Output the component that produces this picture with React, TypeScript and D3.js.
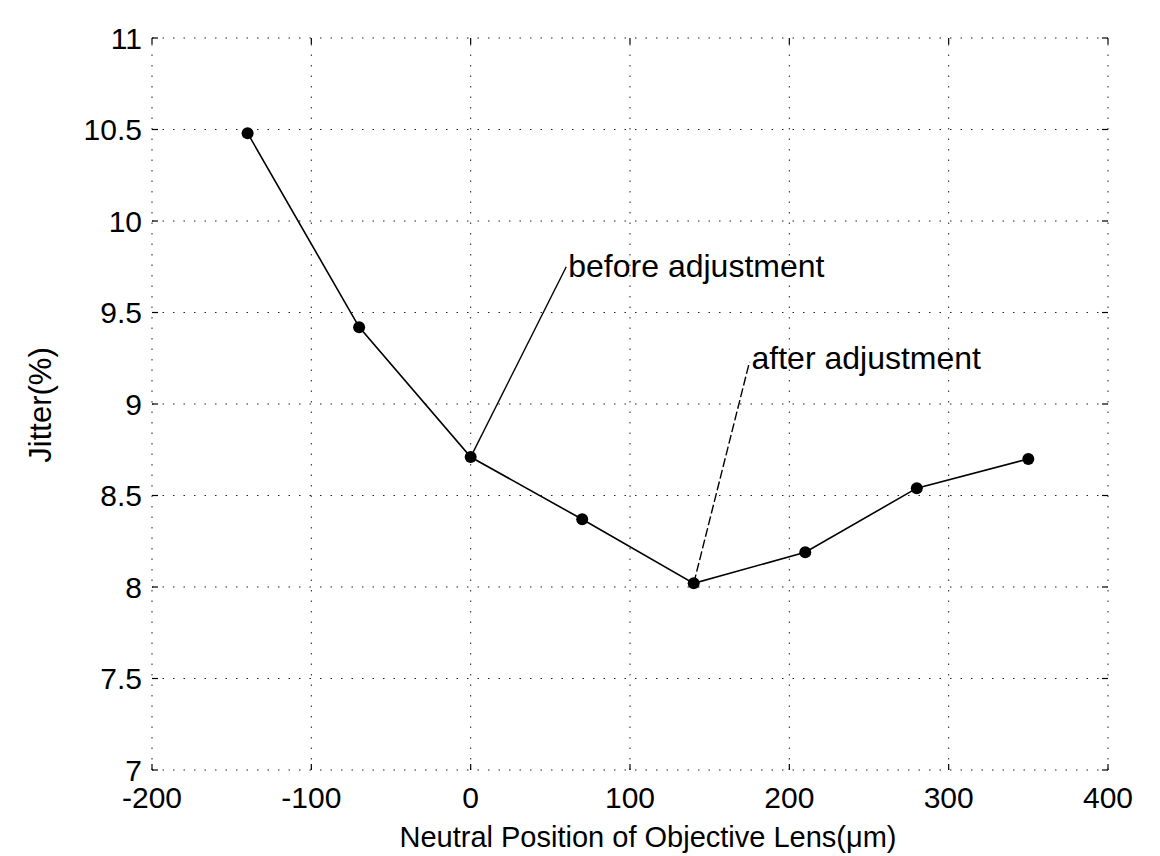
import { useEffect, useRef } from 'react'
import * as d3 from 'd3'

// lens position (um) and measured jitter (%)
const positions = [-140, -70, 0, 70, 140, 210, 280, 350]
const jitter = [10.48, 9.42, 8.71, 8.37, 8.02, 8.19, 8.54, 8.7]

const xTicks = [-200, -100, 0, 100, 200, 300, 400]
const yTicks = [7, 7.5, 8, 8.5, 9, 9.5, 10, 10.5, 11]

// callouts: label, point it refers to, where the label sits (data units)
const notes = [
  { label: 'before adjustment', px: 0, py: 8.71, tx: 60, ty: 9.75, dy: 10, dash: null },
  { label: 'after adjustment', px: 140, py: 8.02, tx: 175, ty: 9.23, dy: 7, dash: '9,3' },
]

const W = 1160
const H = 856
const FONT = '"Liberation Sans", Arial, sans-serif'

export default function App() {
  const ref = useRef<SVGSVGElement | null>(null)

  useEffect(() => {
    if (!ref.current) return
    const svg = d3.select(ref.current)
    svg.selectAll('*').remove()

    const x = d3.scaleLinear().domain([-200, 400]).range([152, 1108])
    const y = d3.scaleLinear().domain([7, 11]).range([770, 38])
    const [x0, x1] = x.range()
    const [y0, y1] = y.range()

    // grid + box, sparse dots like the scanned original
    const grid = svg
      .append('g')
      .attr('stroke', '#222')
      .attr('stroke-width', 1)
      .attr('stroke-dasharray', '1.5,9')
    grid
      .selectAll('line.v')
      .data(xTicks)
      .join('line')
      .attr('class', 'v')
      .attr('x1', (d) => x(d))
      .attr('x2', (d) => x(d))
      .attr('y1', y0)
      .attr('y2', y1)
    grid
      .selectAll('line.h')
      .data(yTicks)
      .join('line')
      .attr('class', 'h')
      .attr('x1', x0)
      .attr('x2', x1)
      .attr('y1', (d) => y(d))
      .attr('y2', (d) => y(d))

    // inward ticks on all four sides
    const tl = 6
    const ticks = svg.append('g').attr('stroke', '#000').attr('stroke-width', 1.2)
    xTicks.forEach((t) => {
      ticks.append('line').attr('x1', x(t)).attr('x2', x(t)).attr('y1', y0).attr('y2', y0 - tl)
      ticks.append('line').attr('x1', x(t)).attr('x2', x(t)).attr('y1', y1).attr('y2', y1 + tl)
    })
    yTicks.forEach((t) => {
      ticks.append('line').attr('x1', x0).attr('x2', x0 + tl).attr('y1', y(t)).attr('y2', y(t))
      ticks.append('line').attr('x1', x1).attr('x2', x1 - tl).attr('y1', y(t)).attr('y2', y(t))
    })

    // tick labels
    svg
      .append('g')
      .selectAll('text')
      .data(xTicks)
      .join('text')
      .attr('x', (d) => x(d))
      .attr('y', 808)
      .attr('text-anchor', 'middle')
      .attr('font-family', FONT)
      .attr('font-size', 30)
      .text((d) => d)
    svg
      .append('g')
      .selectAll('text')
      .data(yTicks)
      .join('text')
      .attr('x', 142)
      .attr('y', (d) => y(d))
      .attr('dy', '0.36em')
      .attr('text-anchor', 'end')
      .attr('font-family', FONT)
      .attr('font-size', 30)
      .text((d) => d)

    // axis titles
    svg
      .append('text')
      .attr('x', 648)
      .attr('y', 847)
      .attr('text-anchor', 'middle')
      .attr('font-family', FONT)
      .attr('font-size', 29)
      .text('Neutral Position of Objective Lens(\u03bcm)')
    svg
      .append('text')
      .attr('transform', `translate(51,405) rotate(-90)`)
      .attr('text-anchor', 'middle')
      .attr('font-family', FONT)
      .attr('font-size', 31)
      .text('Jitter(%)')

    // callout leaders and labels
    notes.forEach((n) => {
      svg
        .append('line')
        .attr('x1', x(n.px))
        .attr('y1', y(n.py))
        .attr('x2', x(n.tx))
        .attr('y2', y(n.ty))
        .attr('stroke', '#000')
        .attr('stroke-width', 1.4)
        .attr('stroke-dasharray', n.dash)
      svg
        .append('text')
        .attr('x', x(n.tx) + 2)
        .attr('y', y(n.ty) + n.dy)
        .attr('font-family', FONT)
        .attr('font-size', 32)
        .text(n.label)
    })

    // data line + markers
    const pts = positions.map((p, i) => [p, jitter[i]] as [number, number])
    const line = d3
      .line<[number, number]>()
      .x((d) => x(d[0]))
      .y((d) => y(d[1]))
    svg
      .append('path')
      .datum(pts)
      .attr('d', line)
      .attr('fill', 'none')
      .attr('stroke', '#000')
      .attr('stroke-width', 1.6)
    svg
      .append('g')
      .selectAll('circle')
      .data(pts)
      .join('circle')
      .attr('cx', (d) => x(d[0]))
      .attr('cy', (d) => y(d[1]))
      .attr('r', 6)
      .attr('fill', '#000')
  }, [])

  return (
    <svg
      ref={ref}
      width={W}
      height={H}
      style={{ position: 'absolute', left: 0, top: 0, background: '#fff' }}
    />
  )
}
